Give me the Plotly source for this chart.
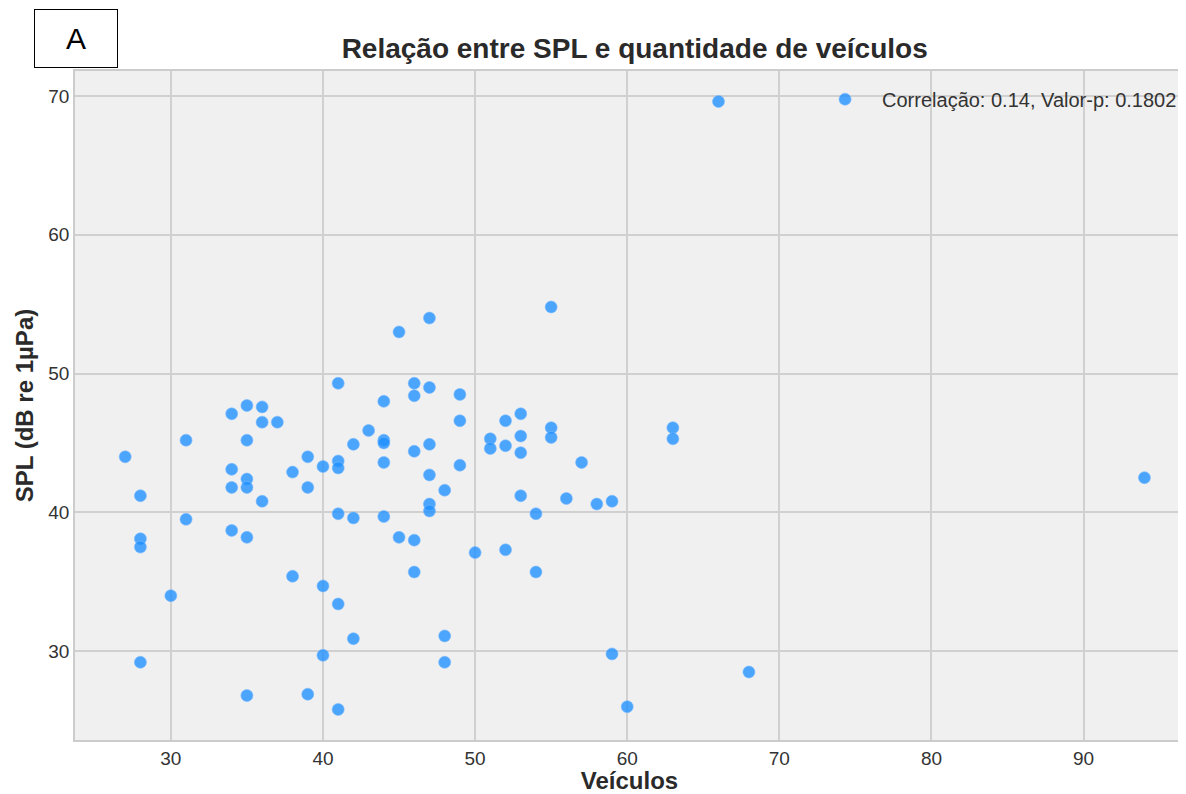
import plotly.graph_objects as go

veiculos = [27,
            28, 28, 28, 28,
            30,
            31, 31,
            34, 34, 34, 34,
            35, 35, 35, 35, 35, 35,
            36, 36, 36,
            37,
            38, 38,
            39, 39, 39,
            40, 40, 40,
            41, 41, 41, 41, 41, 41,
            42, 42, 42,
            43,
            44, 44, 44, 44, 44,
            45, 45,
            46, 46, 46, 46, 46,
            47, 47, 47, 47, 47, 47,
            48, 48, 48,
            49, 49, 49,
            50,
            51, 51,
            52, 52, 52,
            53, 53, 53, 53,
            54, 54,
            55, 55, 55,
            56, 57, 58,
            59, 59,
            60,
            63, 63,
            66, 68, 94]

spl = [44.0,
       41.2, 38.1, 37.5, 29.2,
       34.0,
       45.2, 39.5,
       47.1, 43.1, 41.8, 38.7,
       47.7, 45.2, 42.4, 41.8, 38.2, 26.8,
       47.6, 46.5, 40.8,
       46.5,
       42.9, 35.4,
       44.0, 41.8, 26.9,
       43.3, 34.7, 29.7,
       49.3, 43.7, 43.2, 39.9, 33.4, 25.8,
       44.9, 39.6, 30.9,
       45.9,
       48.0, 45.2, 45.0, 43.6, 39.7,
       53.0, 38.2,
       49.3, 48.4, 44.4, 38.0, 35.7,
       54.0, 49.0, 44.9, 42.7, 40.6, 40.1,
       41.6, 31.1, 29.2,
       48.5, 46.6, 43.4,
       37.1,
       45.3, 44.6,
       46.6, 44.8, 37.3,
       47.1, 45.5, 44.3, 41.2,
       39.9, 35.7,
       54.8, 46.1, 45.4,
       41.0, 43.6, 40.6,
       40.8, 29.8,
       26.0,
       46.1, 45.3,
       69.6, 28.5, 42.5]

x_ticks = [30, 40, 50, 60, 70, 80, 90]
y_ticks = [30, 40, 50, 60, 70]
legend_label = "Correlação: 0.14, Valor-p: 0.1802"
title_text = "Relação entre SPL e quantidade de veículos"
panel_label = "A"

FONT = "Liberation Sans, Arial, sans-serif"

fig = go.Figure()
fig.add_trace(go.Scatter(
    x=veiculos, y=spl, mode="markers", name=legend_label,
    marker=dict(size=12, color="rgba(30,144,255,0.78)",
                line=dict(width=1, color="rgba(120,185,255,0.6)")),
    showlegend=True,
))

fig.update_layout(
    width=1178, height=786,
    margin=dict(l=67, r=0, t=63, b=54),
    paper_bgcolor="white",
    plot_bgcolor="#f0f0f0",
    font=dict(family=FONT, size=19, color="#333333"),
    title=dict(text="<b>" + title_text + "</b>", x=0.532, xanchor="center",
               y=0.949, yanchor="middle",
               font=dict(size=28, color="#2a2a2a")),
    legend=dict(x=0.661, y=0.987, xanchor="left", yanchor="top",
                bgcolor="rgba(0,0,0,0)", borderwidth=0, itemwidth=64,
                font=dict(size=20, color="#333333")),
    showlegend=True,
)
fig.update_xaxes(
    range=[23.7, 96.6], tickvals=x_ticks,
    showgrid=True, gridcolor="#d0d0d0", gridwidth=1.5,
    zeroline=False, showline=True, linecolor="#cccccc", linewidth=1.5, mirror=True,
    ticks="", tickfont=dict(size=19, color="#333333"),
    title=dict(text="<b>Veículos</b>", font=dict(size=24, color="#2a2a2a"), standoff=6),
)
fig.update_yaxes(
    range=[23.6, 71.8], tickvals=y_ticks,
    showgrid=True, gridcolor="#d0d0d0", gridwidth=1.5,
    zeroline=False, showline=True, linecolor="#cccccc", linewidth=1.5, mirror=True,
    ticks="", tickfont=dict(size=19, color="#333333"),
    title=dict(text="<b>SPL (dB re 1µPa)</b>", font=dict(size=24, color="#2a2a2a"), standoff=8),
)

fig.add_annotation(
    text=panel_label, xref="paper", yref="paper",
    x=(68.5 - 67) / 1111, y=(740 - 39) / 669,
    xanchor="center", yanchor="middle", showarrow=False,
    font=dict(size=30, color="black", family=FONT),
    bordercolor="black", borderwidth=1, borderpad=0, bgcolor="white",
    width=82, height=57,
)

fig.write_html("out.html")
